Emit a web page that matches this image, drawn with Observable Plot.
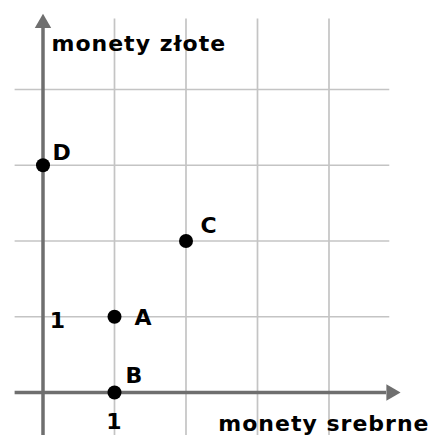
<!DOCTYPE html>
<html>
<head>
<meta charset="utf-8">
<script src="https://cdn.jsdelivr.net/npm/d3@7"></script>
<script src="https://cdn.jsdelivr.net/npm/@observablehq/plot@0.6"></script>
<style>
  html, body { margin: 0; padding: 0; background: #fff; }
  #chart svg text { letter-spacing: 1px; }
</style>
</head>
<body>
<div id="chart"></div>
<script>
// Points: silver coins (x) and gold coins (y)
const names = ["A", "B", "C", "D"];
const silver = [1, 1, 2, 0];
const gold = [1, 0, 2, 3];

// Grid lines and tick labels
const gridX = [1, 2, 3, 4];
const gridY = [1, 2, 3, 4];
const tickX = [1];
const tickY = [1];

const xTitle = "monety srebrne";
const yTitle = "monety złote";

const points = names.map((name, i) => ({name, x: silver[i], y: gold[i]}));

// Extents of the drawn grid and axes (in data units)
const ext = {xMin: -0.39, xMax: 4.85, yMin: -0.58, yMax: 4.93, tip: 5};
const headX = 14 / 71.5, headY = 14 / 75.75;

// Label offsets (pixels) for each named point
const labelOffset = {A: [29, 1], B: [20, -17], C: [23, -15], D: [19, -12]};

const font = {fontFamily: "DejaVu Sans", fontWeight: "bold", fontSize: 22, fill: "#000"};
const axisColor = "#6f6f6f";
const gridColor = "#c4c4c4";

const chart = Plot.plot({
  width: 435,
  height: 435,
  margin: 0,
  x: {domain: [0, 5], range: [42.5, 400], axis: null},
  y: {domain: [0, 5], range: [392, 13.25], axis: null},
  style: {background: "#fff", overflow: "visible"},
  marks: [
    // grid
    Plot.ruleX(gridX, {x: d => d, y1: ext.yMin, y2: ext.yMax, stroke: gridColor, strokeWidth: 1.7}),
    Plot.ruleY(gridY, {y: d => d, x1: ext.xMin, x2: ext.xMax, stroke: gridColor, strokeWidth: 1.7}),
    // axes
    Plot.ruleX([0], {x: d => d, y1: ext.yMin, y2: ext.tip - headY, stroke: axisColor, strokeWidth: 3.5}),
    Plot.ruleY([0], {y: d => d, x1: ext.xMin, x2: ext.tip - headX, stroke: axisColor, strokeWidth: 3.5}),
    Plot.dot([{x: 0, y: ext.tip}], {x: "x", y: "y", symbol: "triangle", r: 6.1, fill: axisColor, stroke: "none", dy: 9.4}),
    Plot.dot([{x: ext.tip, y: 0}], {x: "x", y: "y", symbol: "triangle", r: 6.1, fill: axisColor, stroke: "none", rotate: 90, dx: -9.4}),
    // tick labels
    Plot.text(tickX, {x: d => d, y: 0, text: d => String(d), dy: 29, ...font}),
    Plot.text(tickY, {x: 0, y: d => d, text: d => String(d), dx: 15, dy: 4, ...font}),
    // axis titles
    Plot.text([xTitle], {x: ext.tip, y: 0, text: d => d, textAnchor: "end", dx: 29, dy: 31, ...font}),
    Plot.text([yTitle], {x: 0, y: ext.tip, text: d => d, textAnchor: "start", dx: 8.5, dy: 30, ...font}),
    // points
    Plot.dot(points, {x: "x", y: "y", r: 7, fill: "#000", stroke: "none"}),
    ...names.map(n => Plot.text(points.filter(p => p.name === n), {
      x: "x", y: "y", text: "name", dx: labelOffset[n][0], dy: labelOffset[n][1], ...font
    }))
  ]
});

document.getElementById("chart").appendChild(chart);
</script>
</body>
</html>
